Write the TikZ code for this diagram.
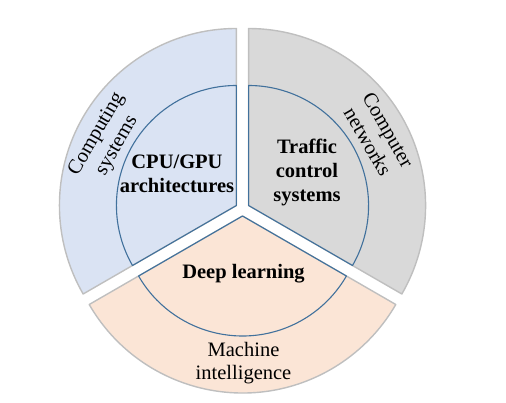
\documentclass[tikz,border=0pt]{standalone}
\usepackage{xcolor}
\usepackage{fontspec}
\setmainfont{Liberation Serif}
\usepackage{tikz}
\usetikzlibrary{positioning,calc}
\definecolor{pcBlue}{HTML}{DAE3F3}
\definecolor{pcGray}{HTML}{D9D9D9}
\definecolor{pcPeach}{HTML}{FBE5D6}
\definecolor{pcEdge}{HTML}{BFBFBF}
\definecolor{pcInner}{HTML}{41719C}
\tikzset{
  % Outer ring sector
  outersec/.style={draw=pcEdge,line width=1.4pt,line join=round},
  % Inner core sector
  innersec/.style={draw=pcInner,line width=1.1pt,line join=round},
  % Core label (bold)
  corelbl/.style={align=center,font=\fontsize{20.5}{24}\selectfont\bfseries,text=black},
  % Ring label
  ringlbl/.style={align=center,font=\fontsize{20.5}{23.5}\selectfont,text=black},
}

\begin{document}
\begin{tikzpicture}[x=1pt,y=1pt]
  \useasboundingbox (-242.5,-194) rectangle (263.5,209);

  % three shifted sectors: shift angle / start / end / colour
  \foreach \sh/\sa/\ea/\col in {150/90/210/pcBlue,30/-30/90/pcGray,270/210/330/pcPeach}{
    \begin{scope}[shift={(\sh:7)}]
      \draw[outersec,fill=\col] (0,0) -- (\sa:177) arc[start angle=\sa,end angle=\ea,radius=177] -- cycle;
      \draw[innersec] (0,0) -- (\sa:120) arc[start angle=\sa,end angle=\ea,radius=120] -- cycle;
    \end{scope}
  }

  \node[corelbl] (cpu) at (-65.5,35) {CPU/GPU\\architectures};
  \node[corelbl] (traffic) at (64.5,37) {Traffic\\control\\systems};
  \node[corelbl] (deep) at (1,-65) {Deep learning};

  \node[ringlbl,rotate=60] (computing) at (-135.5,69) {Computing\\systems};
  \node[ringlbl,rotate=-60] (networks) at (135.5,73) {Computer\\networks};
  \node[ringlbl] (machine) at (1,-154) {Machine\\intelligence};
\end{tikzpicture}
\end{document}
